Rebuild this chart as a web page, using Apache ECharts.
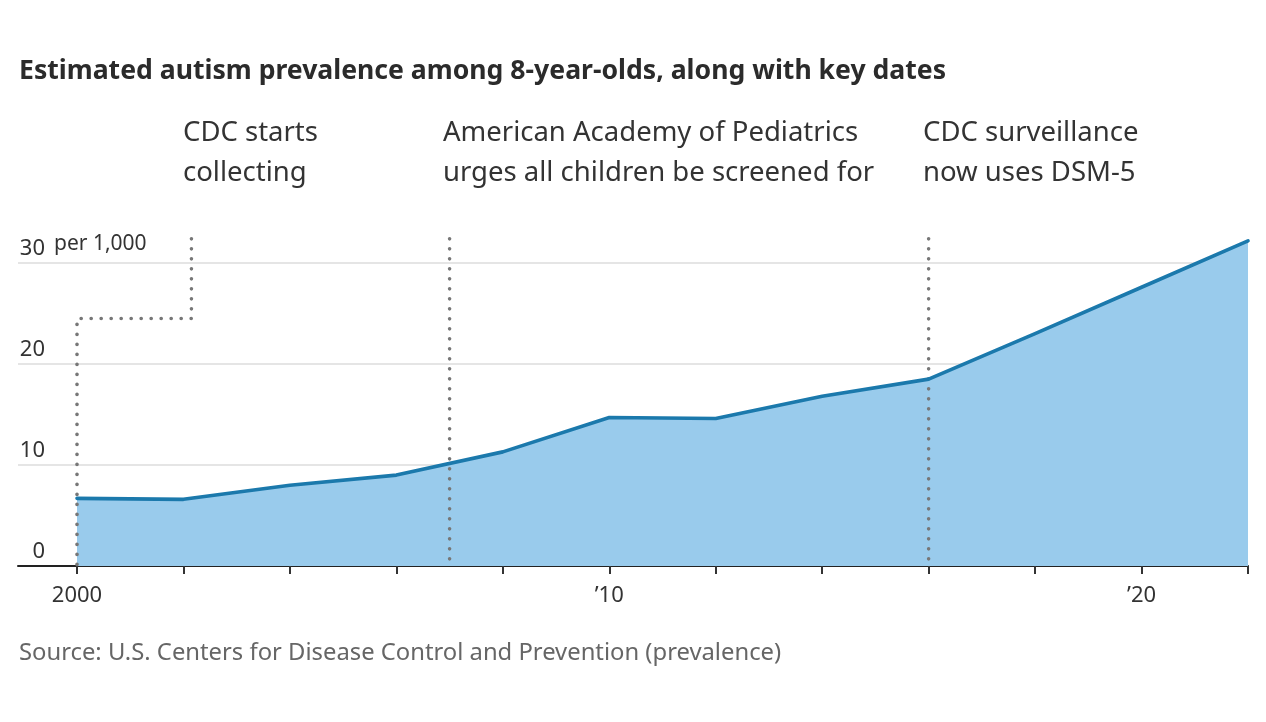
<!DOCTYPE html>
<html>
<head>
<meta charset="utf-8">
<script src="https://cdn.jsdelivr.net/npm/echarts@6/dist/echarts.min.js"></script>
<style>html,body{margin:0;padding:0;background:#fff}#c{width:1266px;height:722px}</style>
</head>
<body>
<div id="c"></div>
<script>
// ---- data ----
const years = [2000, 2002, 2004, 2006, 2008, 2010, 2012, 2014, 2016, 2018, 2020, 2022];
const prevalence = [6.7, 6.6, 8.0, 9.0, 11.3, 14.7, 14.6, 16.8, 18.5, 23.0, 27.6, 32.2];
const yTickValues = [0, 10, 20, 30];
const xTickLabels = { 2000: '2000', 2010: '\u201910', 2020: '\u201920' };
const keyDateLines = [
  [[2002.15, 32.4], [2002.15, 24.5], [2000, 24.5], [2000, 0]],
  [[2007, 32.4], [2007, 0]],
  [[2016, 32.4], [2016, 0]]
];
const keyDateTexts = [
  'CDC starts\ncollecting',
  'American Academy of Pediatrics\nurges all children be screened for',
  'CDC surveillance\nnow uses DSM-5'
];
const titleText = 'Estimated autism prevalence among 8-year-olds, along with key dates';
const sourceText = 'Source: U.S. Centers for Disease Control and Prevention (prevalence)';
const unitText = 'per 1,000';

const FONT = '"Noto Sans", sans-serif';
const chart = echarts.init(document.getElementById('c'), null, { renderer: 'canvas' });

const series = [
  {
    type: 'line', xAxisIndex: 1, yAxisIndex: 1, z: 1,
    data: years.map((y, i) => [y, prevalence[i]]),
    showSymbol: false, symbol: 'none',
    lineStyle: { width: 0 },
    areaStyle: { color: '#99cbec', opacity: 1 }
  }
];
keyDateLines.forEach(pts => {
  series.push({
    type: 'line', xAxisIndex: 1, yAxisIndex: 1, z: 2,
    data: pts, symbol: 'none', silent: true,
    lineStyle: { color: '#777', width: 3.6, type: [0.1, 9.9], cap: 'round' }
  });
});
series.push({
  type: 'line', xAxisIndex: 1, yAxisIndex: 1, z: 3,
  data: years.map((y, i) => [y, prevalence[i]]),
  showSymbol: false, symbol: 'none',
  lineStyle: { color: '#1b79ac', width: 3.6, cap: 'round', join: 'round' }
});

const annX = [183, 443, 923];
const graphics = keyDateTexts.map((t, i) => ({
  type: 'text', left: annX[i], top: 113,
  style: { text: t, font: '27.5px ' + FONT, fill: '#333', lineHeight: 40 }
}));
graphics.push({
  type: 'text', left: 54, top: 234,
  style: { text: unitText, font: '21px ' + FONT, fill: '#333' }
});

chart.setOption({
  animation: false,
  title: [
    { text: titleText, left: 14, top: 53,
      textStyle: { fontFamily: FONT, fontWeight: 'bold', fontSize: 26.6, color: '#2b2b2b' } },
    { text: sourceText, left: 14, top: 636,
      textStyle: { fontFamily: FONT, fontWeight: 'normal', fontSize: 23.8, color: '#666' } }
  ],
  graphic: graphics,
  grid: [
    { left: 18, right: 18, top: 263, bottom: 156 },
    { left: 77, right: 18, top: 232.7, bottom: 156 }
  ],
  xAxis: [
    { type: 'value', gridIndex: 0, min: 1998.89, max: 2022,
      axisLine: { show: true, lineStyle: { color: '#222', width: 2 } },
      axisTick: { show: false }, axisLabel: { show: false }, splitLine: { show: false } },
    { type: 'value', gridIndex: 1, min: 2000, max: 2022, interval: 2,
      axisLine: { show: false },
      axisTick: { show: true, length: 8, lineStyle: { color: '#333', width: 2 } },
      axisLabel: { show: true, margin: 19, fontFamily: FONT, fontSize: 22, color: '#333',
        formatter: v => xTickLabels[v] || '' },
      splitLine: { show: false } }
  ],
  yAxis: [
    { type: 'value', gridIndex: 0, min: 0, max: 30, interval: 10,
      axisLine: { show: false }, axisTick: { show: false },
      axisLabel: { show: true, inside: true, margin: 27, align: 'right', verticalAlign: 'bottom',
        padding: [0, 0, 3, 0], fontFamily: FONT, fontSize: 22, color: '#333',
        formatter: v => yTickValues.includes(v) ? String(v) : '' },
      splitLine: { show: true, lineStyle: { color: '#dcdcdc', width: 1.5 } } },
    { type: 'value', gridIndex: 1, min: 0, max: 33,
      show: false, splitLine: { show: false } }
  ],
  series: series
});
</script>
</body>
</html>
